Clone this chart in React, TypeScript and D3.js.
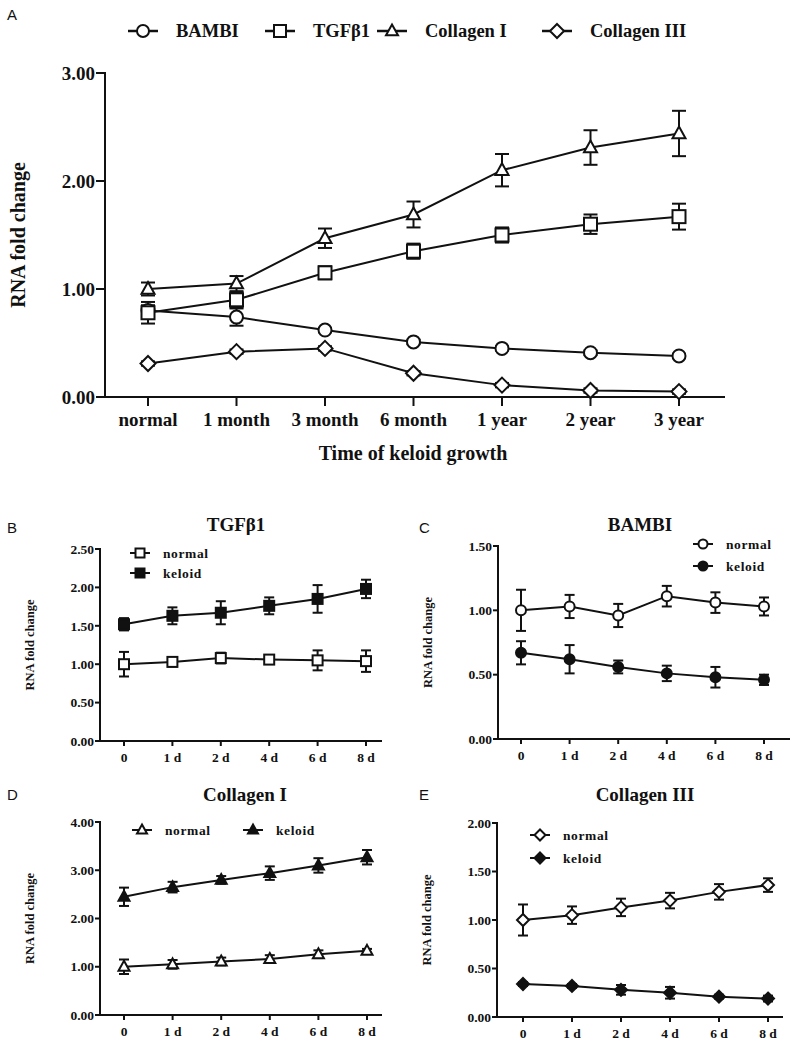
import React from "react";
import * as d3 from "d3";

// ---------- DATA ----------
const catsA = ["normal", "1 month", "3 month", "6 month", "1 year", "2 year", "3 year"];
const bambiA = [0.8, 0.74, 0.62, 0.51, 0.45, 0.41, 0.38];
const bambiAErr = [0.05, 0.08, 0.02, 0.02, 0.02, 0.02, 0.02];
const tgfA = [0.78, 0.9, 1.15, 1.35, 1.5, 1.6, 1.67];
const tgfAErr = [0.1, 0.07, 0.06, 0.07, 0.07, 0.09, 0.12];
const col1A = [1.0, 1.05, 1.47, 1.69, 2.1, 2.31, 2.44];
const col1AErr = [0.06, 0.07, 0.09, 0.12, 0.15, 0.16, 0.21];
const col3A = [0.31, 0.42, 0.45, 0.22, 0.11, 0.06, 0.05];
const col3AErr = [0.02, 0.02, 0.02, 0.02, 0.02, 0.02, 0.02];
const ticksA = [0, 1, 2, 3];

const catsD = ["0", "1 d", "2 d", "4 d", "6 d", "8 d"];

const tgfNormal = [1.0, 1.03, 1.08, 1.06, 1.05, 1.04];
const tgfNormalErr = [0.16, 0.06, 0.07, 0.05, 0.13, 0.14];
const tgfKeloid = [1.52, 1.63, 1.67, 1.76, 1.85, 1.98];
const tgfKeloidErr = [0.08, 0.11, 0.15, 0.11, 0.18, 0.12];
const ticksB = [0, 0.5, 1, 1.5, 2, 2.5];

const bambiNormal = [1.0, 1.03, 0.96, 1.11, 1.06, 1.03];
const bambiNormalErr = [0.16, 0.09, 0.09, 0.08, 0.08, 0.07];
const bambiKeloid = [0.67, 0.62, 0.56, 0.51, 0.48, 0.46];
const bambiKeloidErr = [0.09, 0.11, 0.05, 0.06, 0.08, 0.04];
const ticksC = [0, 0.5, 1, 1.5];

const col1Normal = [1.0, 1.05, 1.11, 1.16, 1.26, 1.33];
const col1NormalErr = [0.15, 0.09, 0.08, 0.08, 0.08, 0.04];
const col1Keloid = [2.45, 2.65, 2.8, 2.94, 3.1, 3.27];
const col1KeloidErr = [0.19, 0.11, 0.08, 0.14, 0.15, 0.15];
const ticksDD = [0, 1, 2, 3, 4];

const col3Normal = [1.0, 1.05, 1.13, 1.2, 1.29, 1.36];
const col3NormalErr = [0.16, 0.09, 0.09, 0.08, 0.08, 0.07];
const col3Keloid = [0.34, 0.32, 0.28, 0.25, 0.21, 0.19];
const col3KeloidErr = [0.02, 0.02, 0.05, 0.06, 0.02, 0.03];
const ticksE = [0, 0.5, 1, 1.5, 2];

const legendA = ["BAMBI", "TGFβ1", "Collagen I", "Collagen III"];

const INK = "#111";
const SERIF = "'Liberation Serif', 'Times New Roman', serif";
const SANS = "'Liberation Sans', Arial, sans-serif";

type Shape = "circle" | "square" | "triangle" | "diamond";

function Marker({ shape, x, y, s, filled }: { shape: Shape; x: number; y: number; s: number; filled: boolean }) {
  const fill = filled ? INK : "#fff";
  const common = { fill, stroke: INK, strokeWidth: 2 };
  if (shape === "circle") return <circle cx={x} cy={y} r={s / 2} {...common} />;
  if (shape === "square") return <rect x={x - s / 2} y={y - s / 2} width={s} height={s} {...common} />;
  if (shape === "triangle") {
    const h = s * 0.9;
    return <path d={`M${x},${y - h * 0.6} L${x + s / 2},${y + h * 0.4} L${x - s / 2},${y + h * 0.4} Z`} {...common} />;
  }
  const r = s / 2 + 1;
  return <path d={`M${x},${y - r} L${x + r},${y} L${x},${y + r} L${x - r},${y} Z`} {...common} />;
}

type Series = { vals: number[]; errs: number[]; shape: Shape; filled: boolean };

function Plot(props: {
  cats: string[];
  series: Series[];
  xFirst: number;
  xLast: number;
  axisLeft: number;
  axisRight: number;
  yBottom: number;
  yTop: number;
  ticks: number[];
  tickFont: number;
  xFont: number;
  tickLen: number;
  markerSize: number;
  capW: number;
  xLabelDy: number;
}) {
  const { cats, series, xFirst, xLast, axisLeft, axisRight, yBottom, yTop, ticks, tickFont, xFont, tickLen, markerSize, capW, xLabelDy } = props;
  const x = d3.scalePoint<string>().domain(cats).range([xFirst, xLast]);
  const y = d3.scaleLinear().domain([0, ticks[ticks.length - 1]]).range([yBottom, yTop]);
  const line = d3
    .line<number>()
    .x((_, i) => x(cats[i])!)
    .y((v) => y(v));
  return (
    <g>
      <line x1={axisLeft} x2={axisLeft} y1={yTop - 1} y2={yBottom} stroke={INK} strokeWidth={2} />
      <line x1={axisLeft - 1} x2={axisRight} y1={yBottom} y2={yBottom} stroke={INK} strokeWidth={2} />
      {ticks.map((t) => (
        <g key={t}>
          <line x1={axisLeft - tickLen} x2={axisLeft} y1={y(t)} y2={y(t)} stroke={INK} strokeWidth={2} />
          <text x={axisLeft - tickLen - 1} y={y(t)} dy="0.35em" textAnchor="end" fontFamily={SERIF} fontWeight="bold" fontSize={tickFont} fill={INK}>
            {t.toFixed(2)}
          </text>
        </g>
      ))}
      {cats.map((c) => (
        <g key={c}>
          <line x1={x(c)} x2={x(c)} y1={yBottom} y2={yBottom + tickLen} stroke={INK} strokeWidth={2} />
          <text x={x(c)} y={yBottom + xLabelDy} textAnchor="middle" fontFamily={SERIF} fontWeight="bold" fontSize={xFont} fill={INK}>
            {c}
          </text>
        </g>
      ))}
      {series.map((s, si) =>
        s.vals.map((v, i) => {
          const cx = x(cats[i])!;
          const hi = y(v + s.errs[i]);
          const lo = y(v - s.errs[i]);
          return (
            <g key={`e${si}-${i}`} stroke={INK} strokeWidth={2}>
              <line x1={cx} x2={cx} y1={hi} y2={lo} />
              <line x1={cx - capW / 2} x2={cx + capW / 2} y1={hi} y2={hi} />
              <line x1={cx - capW / 2} x2={cx + capW / 2} y1={lo} y2={lo} />
            </g>
          );
        })
      )}
      {series.map((s, si) => (
        <path key={`l${si}`} d={line(s.vals)!} fill="none" stroke={INK} strokeWidth={2} />
      ))}
      {series.map((s, si) =>
        s.vals.map((v, i) => <Marker key={`m${si}-${i}`} shape={s.shape} x={x(cats[i])!} y={y(v)} s={markerSize} filled={s.filled} />)
      )}
    </g>
  );
}

function LegendItem({ x, y, shape, filled, label, size, font, len }: { x: number; y: number; shape: Shape; filled: boolean; label: string; size: number; font: number; len: number }) {
  return (
    <g>
      <line x1={x} x2={x + len} y1={y} y2={y} stroke={INK} strokeWidth={2} />
      <Marker shape={shape} x={x + len / 2} y={y} s={size} filled={filled} />
      <text x={x + len + 13} y={y} dy="0.35em" fontFamily={SERIF} fontWeight="bold" fontSize={font} fill={INK} letterSpacing={0.6}>
        {label}
      </text>
    </g>
  );
}

function SmallPanel(props: {
  letter: string;
  letterX: number;
  letterY: number;
  title: string;
  titleX: number;
  titleY: number;
  axisLeft: number;
  axisRight: number;
  xFirst: number;
  xLast: number;
  yBottom: number;
  yTop: number;
  ticks: number[];
  shape: Shape;
  normal: number[];
  normalErr: number[];
  keloid: number[];
  keloidErr: number[];
  legend: { x: number; y: number; label: string; filled: boolean }[];
}) {
  const p = props;
  const ms = p.shape === "triangle" ? 11 : 10;
  return (
    <g>
      <text x={p.letterX} y={p.letterY} fontFamily={SANS} fontSize={15} fill={INK}>
        {p.letter}
      </text>
      <text x={p.titleX} y={p.titleY} textAnchor="middle" fontFamily={SERIF} fontWeight="bold" fontSize={19} fill={INK}>
        {p.title}
      </text>
      <text
        transform={`translate(${p.axisLeft - 66},${(p.yTop + p.yBottom) / 2}) rotate(-90)`}
        textAnchor="middle"
        fontFamily={SERIF}
        fontWeight="bold"
        fontSize={12.5}
        fill={INK}
      >
        RNA fold change
      </text>
      <Plot
        cats={catsD}
        series={[
          { vals: p.normal, errs: p.normalErr, shape: p.shape, filled: false },
          { vals: p.keloid, errs: p.keloidErr, shape: p.shape, filled: true },
        ]}
        xFirst={p.xFirst}
        xLast={p.xLast}
        axisLeft={p.axisLeft}
        axisRight={p.axisRight}
        yBottom={p.yBottom}
        yTop={p.yTop}
        ticks={p.ticks}
        tickFont={13.5}
        xFont={13.5}
        tickLen={5}
        markerSize={ms}
        capW={10}
        xLabelDy={21}
      />
      {p.legend.map((l) => (
        <LegendItem key={l.label} x={l.x} y={l.y} shape={p.shape} filled={l.filled} label={l.label} size={ms - 1} font={13.5} len={20} />
      ))}
    </g>
  );
}

export default function App() {
  const shapesA: Shape[] = ["circle", "square", "triangle", "diamond"];
  const legX = [128, 265, 377, 542];
  return (
    <svg width={800} height={1043} style={{ position: "absolute", left: 0, top: 0, background: "#fff" }}>
      <rect x={0} y={0} width={800} height={1043} fill="#fff" />
      {/* Panel A */}
      <text x={7} y={20} fontFamily={SANS} fontSize={15} fill={INK}>
        A
      </text>
      {legendA.map((label, i) => (
        <g key={label}>
          <line x1={legX[i]} x2={legX[i] + 30} y1={31} y2={31} stroke={INK} strokeWidth={2.5} />
          <Marker shape={shapesA[i]} x={legX[i] + 15} y={31} s={12} filled={false} />
          <text x={legX[i] + 48} y={31} dy="0.35em" fontFamily={SERIF} fontWeight="bold" fontSize={18.5} fill={INK}>
            {label}
          </text>
        </g>
      ))}
      <text transform="translate(25,235) rotate(-90)" textAnchor="middle" fontFamily={SERIF} fontWeight="bold" fontSize={20} fill={INK}>
        RNA fold change
      </text>
      <text x={413} y={460} textAnchor="middle" fontFamily={SERIF} fontWeight="bold" fontSize={20} fill={INK}>
        Time of keloid growth
      </text>
      <Plot
        cats={catsA}
        series={[
          { vals: bambiA, errs: bambiAErr, shape: "circle", filled: false },
          { vals: tgfA, errs: tgfAErr, shape: "square", filled: false },
          { vals: col1A, errs: col1AErr, shape: "triangle", filled: false },
          { vals: col3A, errs: col3AErr, shape: "diamond", filled: false },
        ]}
        xFirst={148}
        xLast={679}
        axisLeft={105}
        axisRight={725}
        yBottom={397}
        yTop={73}
        ticks={ticksA}
        tickFont={19}
        xFont={19}
        tickLen={9}
        markerSize={13}
        capW={14}
        xLabelDy={29}
      />

      <SmallPanel
        letter="B"
        letterX={7}
        letterY={533}
        title="TGFβ1"
        titleX={236}
        titleY={531}
        axisLeft={100}
        axisRight={382}
        xFirst={124}
        xLast={366}
        yBottom={741}
        yTop={549}
        ticks={ticksB}
        shape="square"
        normal={tgfNormal}
        normalErr={tgfNormalErr}
        keloid={tgfKeloid}
        keloidErr={tgfKeloidErr}
        legend={[
          { x: 130, y: 553, label: "normal", filled: false },
          { x: 130, y: 573, label: "keloid", filled: true },
        ]}
      />
      <SmallPanel
        letter="C"
        letterX={419}
        letterY={533}
        title="BAMBI"
        titleX={640}
        titleY={531}
        axisLeft={498}
        axisRight={790}
        xFirst={521}
        xLast={764}
        yBottom={739}
        yTop={546}
        ticks={ticksC}
        shape="circle"
        normal={bambiNormal}
        normalErr={bambiNormalErr}
        keloid={bambiKeloid}
        keloidErr={bambiKeloidErr}
        legend={[
          { x: 693, y: 544, label: "normal", filled: false },
          { x: 693, y: 566, label: "keloid", filled: true },
        ]}
      />
      <SmallPanel
        letter="D"
        letterX={7}
        letterY={800}
        title="Collagen I"
        titleX={245}
        titleY={801}
        axisLeft={100}
        axisRight={382}
        xFirst={124}
        xLast={367}
        yBottom={1015}
        yTop={822}
        ticks={ticksDD}
        shape="triangle"
        normal={col1Normal}
        normalErr={col1NormalErr}
        keloid={col1Keloid}
        keloidErr={col1KeloidErr}
        legend={[
          { x: 132, y: 830, label: "normal", filled: false },
          { x: 243, y: 830, label: "keloid", filled: true },
        ]}
      />
      <SmallPanel
        letter="E"
        letterX={419}
        letterY={800}
        title="Collagen III"
        titleX={645}
        titleY={801}
        axisLeft={497}
        axisRight={783}
        xFirst={523}
        xLast={768}
        yBottom={1017}
        yTop={823}
        ticks={ticksE}
        shape="diamond"
        normal={col3Normal}
        normalErr={col3NormalErr}
        keloid={col3Keloid}
        keloidErr={col3KeloidErr}
        legend={[
          { x: 530, y: 835, label: "normal", filled: false },
          { x: 530, y: 858, label: "keloid", filled: true },
        ]}
      />
    </svg>
  );
}
